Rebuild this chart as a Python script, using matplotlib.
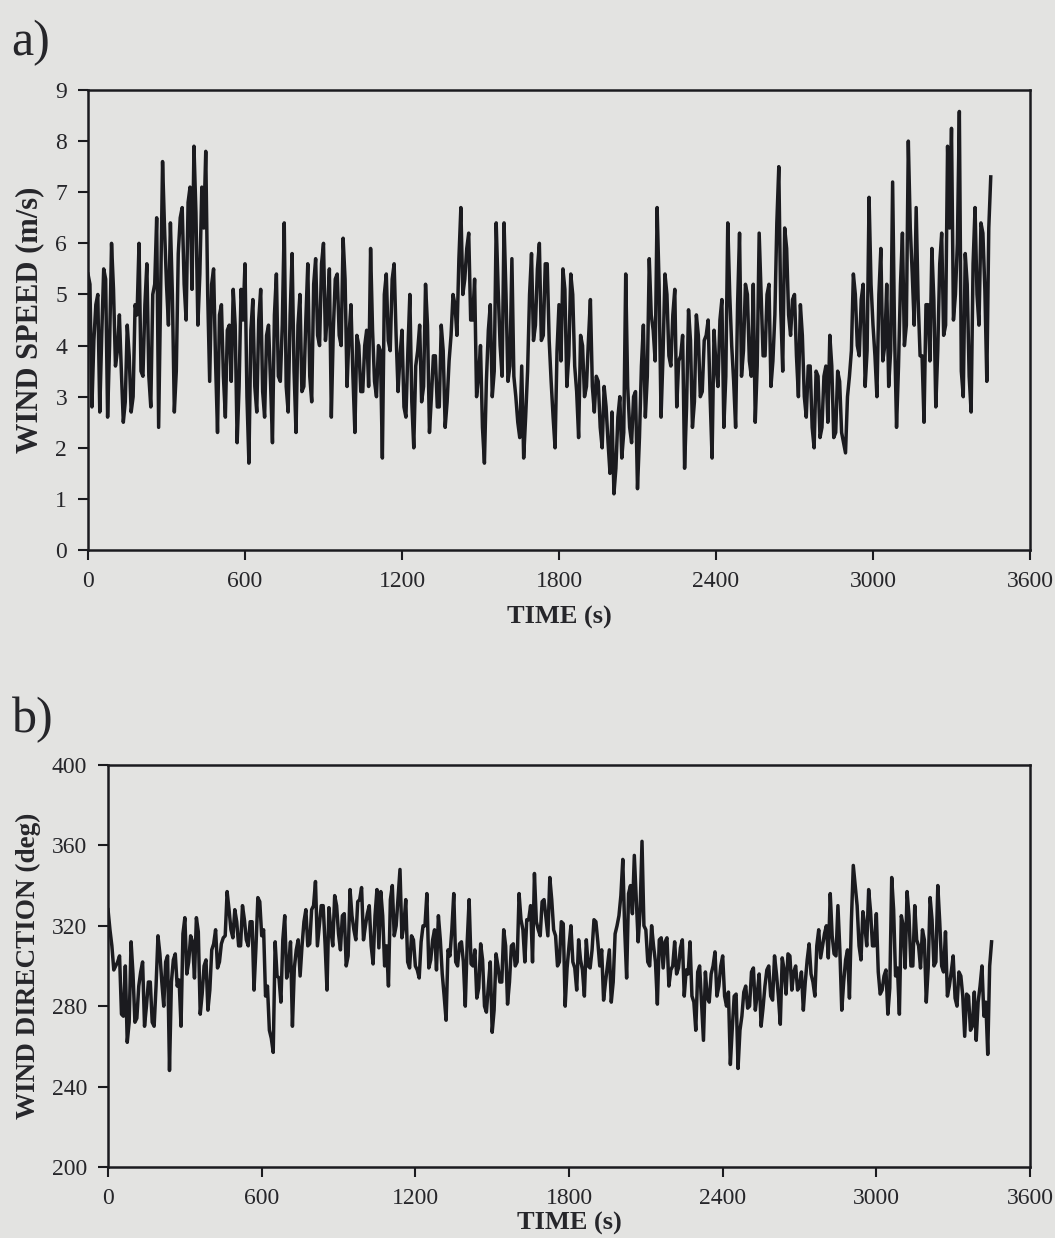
import numpy as np
import matplotlib.pyplot as plt

# readings: spikes every 15 s, and the dense band in between
time_s = np.arange(0, 3451, 15)
time_mid = np.arange(7.5, 3450, 15)

# a) wind speed (m/s) - spike readings
wind_speed = [
    5.4, 2.8, 4.8, 2.7, 5.5, 2.6, 6.0, 3.6, 4.6, 2.5, 4.4, 2.7, 4.8, 6.0, 3.4, 5.6,
    2.8, 5.2, 2.4, 7.6, 5.2, 6.4, 2.7, 5.8, 6.7, 4.5, 7.1, 7.9, 4.4, 7.1, 7.8, 3.3,
    5.5, 2.3, 4.8, 2.6, 4.4, 5.1, 2.1, 5.1, 5.6, 1.7, 4.9, 2.7, 5.1, 2.6, 4.4, 2.1,
    5.4, 3.3, 6.4, 2.7, 5.8, 2.3, 5.0, 3.2, 5.6, 2.9, 5.7, 4.0,
    6.0, 4.6, 2.6, 5.3, 4.2, 6.1, 3.2, 4.8, 2.3, 4.0, 3.1, 4.3, 5.9, 3.3, 4.0, 1.8,
    5.4, 3.9, 5.6, 3.1, 4.3, 2.6, 5.0, 2.0, 3.9, 2.9, 5.2, 2.3, 3.8, 2.8, 4.4, 2.4,
    3.7, 5.0, 4.2, 6.7, 5.3, 6.2, 4.5, 3.0, 4.0, 1.7, 4.3, 3.0, 6.4, 4.0, 6.4, 3.3,
    5.7, 3.0, 2.2, 1.8, 3.5, 5.8, 4.4, 6.0, 4.2, 5.6,
    3.3, 2.0, 4.8, 5.5, 3.2, 5.4, 3.6, 2.2, 4.0, 3.2, 4.9, 2.7, 3.3, 2.0, 2.8, 1.5,
    1.1, 2.6, 1.8, 5.4, 2.4, 3.0, 1.2, 3.6, 2.6, 5.7, 4.3, 6.7, 2.6, 5.4, 3.8, 4.6,
    2.8, 3.8, 1.6, 4.7, 2.4, 4.6, 3.0, 4.1, 4.5, 1.8, 3.6, 4.5, 2.4, 6.4, 4.0, 2.4,
    6.2, 3.9, 5.0, 3.4, 2.5, 6.2, 3.8, 5.0, 3.2, 4.6, 7.5,
    3.5, 5.9, 4.2, 5.0, 3.0, 4.2, 2.6, 3.6, 2.0, 3.4, 2.4, 3.6, 4.2, 2.2, 3.5, 2.3,
    1.9, 3.4, 5.4, 4.0, 4.9, 3.2, 6.9, 4.4, 3.0, 5.9, 4.0, 3.2, 7.2, 2.4, 5.2, 4.0,
    8.0, 5.4, 6.7, 3.8, 2.5, 4.8, 5.9, 2.8, 5.6, 4.2, 7.9, 8.25, 5.0, 8.58, 3.0, 5.2,
    2.7, 6.7, 4.4, 6.2, 3.3, 7.3,
]

# a) wind speed (m/s) - band readings
wind_speed_band = [
    5.2, 4.1, 5.0, 4.2, 5.3, 4.0, 5.1, 3.9, 3.5, 2.9,
    3.8, 3.0, 4.6, 3.5, 4.8, 3.4, 5.0, 6.5, 5.0, 6.3,
    4.4, 5.0, 3.5, 6.5, 5.2, 6.8, 5.1, 6.6, 5.4, 6.3,
    5.0, 5.2, 3.7, 4.6, 3.4, 4.3, 3.3, 4.4, 3.2, 4.5,
    3.0, 4.3, 3.2, 4.5, 3.1, 4.2, 3.3, 4.6, 3.4, 4.4,
    3.2, 4.6, 3.5, 4.4, 3.1, 4.5, 3.4, 5.2, 4.2, 5.6,
    4.1, 5.5, 4.3, 5.4, 4.0, 5.3, 4.2, 3.4, 4.2, 3.1,
    4.0, 3.2, 4.3, 3.0, 3.9, 5.0, 4.1, 5.3, 4.2, 3.8,
    2.8, 3.9, 2.9, 3.6, 4.4, 3.2, 4.4, 3.0, 3.8, 2.8,
    3.9, 2.9, 4.2, 4.8, 5.7, 5.0, 5.9, 4.5, 5.3, 3.4,
    2.4, 3.3, 4.8, 3.5, 5.1, 3.4, 5.0, 3.6, 3.4, 2.5,
    3.6, 2.6, 5.0, 4.1, 5.5, 4.1, 5.6, 4.1, 2.6, 3.9,
    3.7, 5.1, 3.8, 5.0, 3.1, 4.2, 3.0, 4.1, 3.2, 3.4,
    2.4, 3.2, 2.1, 2.7, 1.6, 3.0, 2.3, 3.2, 2.1, 3.1,
    2.2, 4.4, 3.4, 4.6, 3.7, 5.2, 3.8, 5.0, 3.6, 5.1,
    3.7, 4.2, 2.8, 4.1, 2.9, 4.2, 3.1, 4.2, 3.0, 4.3,
    3.2, 4.9, 3.4, 5.0, 3.3, 4.8, 3.4, 5.2, 3.7, 5.2,
    3.6, 5.0, 3.8, 5.2, 3.7, 6.4, 4.7, 6.3, 4.6, 4.9,
    3.8, 4.8, 3.0, 3.6, 2.4, 3.5, 2.2, 3.4, 2.5, 3.6,
    2.3, 3.3, 2.1, 3.0, 3.9, 5.0, 3.8, 5.2, 3.9, 5.2,
    3.8, 5.0, 3.7, 5.2, 3.9, 4.2, 3.6, 6.2, 4.4, 6.3,
    4.4, 4.9, 3.8, 4.8, 3.7, 4.9, 3.9, 6.2, 4.4, 6.3,
    4.5, 6.0, 3.5, 5.8, 3.4, 5.6, 5.0, 6.4, 5.1, 6.3,
]

# b) wind direction (deg) - spike readings
wind_dir = [
    328, 310, 300, 305, 275, 262, 312, 272, 290, 302, 280, 292, 270, 315, 292, 302,
    248, 303, 290, 270, 324, 302, 312, 324, 276, 300, 278, 308, 318, 302, 314, 337,
    318, 328, 310, 330, 313, 322, 288, 334, 315, 285, 268, 257, 295, 282, 325, 300,
    270, 308, 295, 322, 310, 328, 342, 320, 330, 288, 318, 335,
    316, 325, 300, 338, 318, 332, 339, 320, 330, 301, 338, 337, 300, 290, 340, 320,
    348, 320, 302, 315, 300, 294, 320, 336, 303, 318, 325, 296, 273, 305, 336, 300,
    312, 280, 333, 300, 284, 311, 280, 290, 267, 306, 292, 318, 281, 310, 300, 336,
    318, 323, 330, 346, 318, 332, 324, 344, 318, 300, 322, 280, 310,
    302, 288, 303, 285, 300, 308, 322, 300, 283, 300, 282, 316, 325, 353, 294, 340,
    355, 312, 362, 318, 300, 310, 281, 314, 312, 290, 300, 296, 309, 285, 296, 285,
    268, 300, 263, 284, 296, 307, 290, 305, 280, 251, 285, 249, 275, 290, 280, 299,
    286, 270, 290, 300, 283, 296, 271, 298, 306, 288, 300,
    290, 278, 303, 296, 285, 318, 310, 320, 336, 306, 330, 278, 303, 284, 350, 330,
    303, 320, 338, 310, 326, 286, 295, 276, 344, 295, 276, 320, 337, 300, 330, 310,
    318, 282, 334, 300, 340, 300, 317, 290, 305, 280, 295, 265, 285, 270, 263, 290,
    275, 256, 312,
]

# b) wind direction (deg) - band readings
wind_dir_band = [
    318, 298, 302, 276, 300, 272, 296, 274, 297, 270,
    292, 272, 290, 306, 280, 305, 292, 306, 293, 316,
    296, 315, 294, 317, 286, 303, 288, 311, 299, 311,
    315, 328, 314, 322, 310, 323, 310, 322, 309, 332,
    318, 290, 264, 312, 294, 313, 294, 312, 299, 313,
    310, 328, 311, 330, 310, 330, 311, 329, 310, 330,
    308, 326, 305, 325, 313, 333, 313, 326, 310, 325,
    309, 325, 310, 333, 315, 334, 314, 333, 299, 313,
    298, 312, 320, 299, 313, 298, 313, 285, 308, 318,
    302, 311, 302, 312, 301, 308, 289, 303, 277, 302,
    278, 300, 292, 310, 292, 311, 302, 323, 302, 323,
    302, 322, 315, 333, 315, 333, 315, 302, 321, 299,
    320, 299, 313, 298, 313, 299, 323, 312, 308, 292,
    308, 292, 320, 335, 318, 336, 326, 334, 327, 320,
    302, 320, 302, 313, 299, 314, 298, 312, 299, 313,
    298, 312, 282, 297, 282, 297, 282, 300, 285, 300,
    285, 287, 269, 286, 268, 287, 279, 297, 278, 296,
    279, 298, 285, 305, 285, 304, 286, 305, 297, 288,
    297, 292, 311, 292, 310, 304, 316, 304, 315, 305,
    308, 292, 308, 322, 340, 310, 327, 310, 327, 310,
    297, 288, 298, 289, 328, 299, 325, 299, 325, 300,
    313, 299, 313, 299, 323, 302, 322, 297, 285, 297,
    284, 297, 285, 286, 268, 287, 282, 300, 282, 300,
]

xticks = [0, 600, 1200, 1800, 2400, 3000, 3600]
bg = '#e3e3e1'
ink = '#1b1b1f'
txt = '#26262a'


def merged(spikes, band):
    t = np.concatenate([time_s, time_mid])
    v = np.concatenate([spikes, band])
    order = np.argsort(t)
    return t[order], v[order]


plt.rcParams['font.family'] = ['Liberation Serif', 'DejaVu Serif']

fig = plt.figure(figsize=(10.55, 12.38), dpi=100, facecolor=bg)
ax1 = fig.add_axes([0.0834, 0.5557, 0.8929, 0.3716], facecolor=bg)
ax2 = fig.add_axes([0.1024, 0.0574, 0.8739, 0.3247], facecolor=bg)


def style(ax, xpad):
    for s in ax.spines.values():
        s.set_linewidth(1.8)
        s.set_color(ink)
    ax.tick_params(direction='out', length=7, width=1.5, color=ink,
                   labelsize=17, pad=8, labelcolor=txt)
    ax.set_xlim(0, 3600)
    ax.set_xticks(xticks)
    ax.set_xlabel('TIME (s)', fontsize=19, fontweight='bold', color=txt, labelpad=xpad)


t1, v1 = merged(wind_speed, wind_speed_band)
ax1.plot(t1, v1, color=ink, lw=2.5)
ax1.set_ylim(0, 9)
ax1.set_yticks(range(0, 10))
style(ax1, 10)
ax1.set_ylabel('WIND SPEED (m/s)', fontsize=22, fontweight='bold', color=txt, labelpad=8)

t2, v2 = merged(wind_dir, wind_dir_band)
ax2.plot(t2, v2, color=ink, lw=2.5)
ax2.set_ylim(200, 400)
ax2.set_yticks(range(200, 401, 40))
style(ax2, 2)
ax2.set_ylabel('WIND DIRECTION (deg)', fontsize=19.5, fontweight='bold', color=txt, labelpad=8)

fig.text(0.011, 0.984, 'a)', fontsize=36, va='top', color=txt)
fig.text(0.011, 0.437, 'b)', fontsize=36, va='top', color=txt)

fig.savefig('out.png', dpi=100, facecolor=bg)
